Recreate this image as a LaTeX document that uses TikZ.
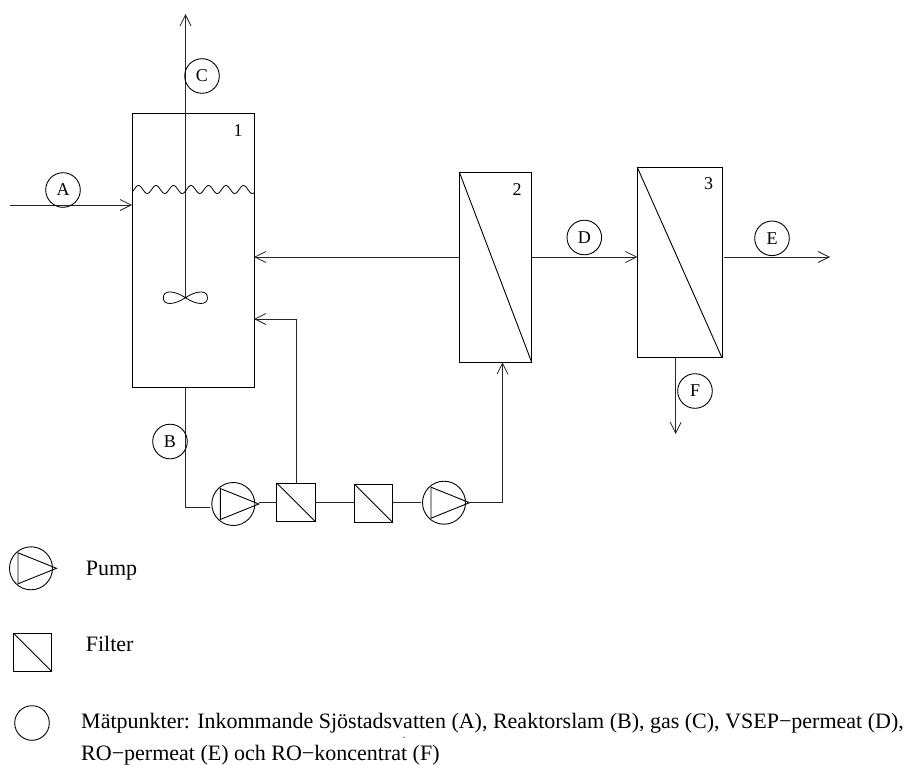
\documentclass[tikz,border=0pt]{standalone}
\usepackage{fontspec}
\setmainfont{Liberation Serif}
\usetikzlibrary{arrows.meta}
\tikzset{
  x=1pt,y=-1pt,
  ln/.style={line width=0.9pt,black!85},
  arr/.style={ln,-{Straight Barb[length=11pt,width=11pt,line width=0.8pt]}},
  pt/.style={circle,draw,line width=0.9pt,minimum size=34.6pt,inner sep=0pt,outer sep=0pt,font=\fontsize{18}{18}\selectfont},
  pumpc/.style={circle,draw,line width=0.9pt,minimum size=43pt,inner sep=0pt,outer sep=0pt},
  vessel/.style={rectangle,draw,line width=0.9pt,inner sep=0pt,outer sep=0pt},
  lbl/.style={inner sep=0pt,font=\fontsize{18}{18}\selectfont},
  txt/.style={inner sep=0pt,anchor=base west,font=\fontsize{22}{22}\selectfont},
}
\newcommand{\tri}[1]{\draw[line width=0.9pt,line join=miter] ([shift={(-13,-15.5)}]#1.center) -- ([shift={(25.5,0)}]#1.center) -- ([shift={(-13,15.5)}]#1.center) -- cycle;}
\begin{document}
\begin{tikzpicture}
\useasboundingbox (0,0) rectangle (915,765);
% vessels
\node[vessel,minimum width=122pt,minimum height=274pt] (tank) at (193,250) {};
\node[vessel,minimum width=72.4pt,minimum height=190.3pt] (uf) at (495.5,267.2) {};
\node[vessel,minimum width=84.7pt,minimum height=190.4pt] (ro) at (679.6,262.5) {};
\draw[line width=0.9pt] (uf.north west) -- (uf.south east);
\draw[line width=0.9pt] (ro.north west) -- (ro.south east);
\node[lbl] (n1) at (238,131) {1};
\node[lbl] (n2) at (517,189.5) {2};
\node[lbl] (n3) at (708.7,183.5) {3};
% pumps and filters
\node[pumpc] (p1) at (233.3,504) {}; \tri{p1}
\node[pumpc] (p2) at (444,502.7) {}; \tri{p2}
\node[vessel,minimum size=38.4pt] (f1) at (296,502.3) {};
\node[vessel,minimum size=38.4pt] (f2) at (373.5,503.3) {};
\draw[line width=0.9pt] (f1.north west) -- (f1.south east);
\draw[line width=0.9pt] (f2.north west) -- (f2.south east);
% free ends
\coordinate (aIn) at (10,205);
\coordinate (cTop) at (185.5,14);
\coordinate (cBot) at (185.5,297.7);
\coordinate (bTop) at (185.5,387);
\coordinate (bCorner) at (185.5,507);
\coordinate (bEnd) at (210,507);
\coordinate (retIn) at (254,319);
\coordinate (retCorner) at (296,319);
\coordinate (ufIn) at (502.5,362.3);
\coordinate (ufCorner) at (502.5,502);
\coordinate (p2Out) at (467,502);
\coordinate (p1Out) at (258.8,502);
\coordinate (f1L) at (276.8,502);
\coordinate (f1R) at (315.2,502);
\coordinate (f2L) at (354.3,502);
\coordinate (f2R) at (392.7,502);
\coordinate (p2In) at (421,502);
\coordinate (recIn) at (254,257);
\coordinate (recOut) at (459.3,257);
\coordinate (dOut) at (531.7,257);
\coordinate (dIn) at (637.3,257);
\coordinate (eOut) at (723.7,257);
\coordinate (eEnd) at (830,257);
\coordinate (fTop) at (675.7,357.7);
\coordinate (fEnd) at (675.7,434);
\coordinate (aEnd) at (132,205);
% connectors
\draw[arr] (aIn) -- (aEnd);
\draw[arr] (cBot) -- (cTop);
\draw[ln] (bTop) -- (bCorner) -- (bEnd);
\draw[arr] (recOut) -- (recIn);
\draw[arr] (f1.north) -- (retCorner) -- (retIn);
\draw[ln] (p1Out) -- (f1L);
\draw[ln] (f1R) -- (f2L);
\draw[ln] (f2R) -- (p2In);
\draw[arr] (p2Out) -- (ufCorner) -- (ufIn);
\draw[arr] (dOut) -- (dIn);
\draw[arr] (eOut) -- (eEnd);
\draw[arr] (fTop) -- (fEnd);
% liquid level and impeller
\draw[line width=0.8pt] plot[domain=133:254,samples=140] (\x,{189.5-4*cos(20.571*(\x-138.5))});
\draw[line width=0.8pt] (cBot) .. controls (197,290) and (207.5,290) .. (207.5,297.7) .. controls (207.5,305.4) and (197,305.4) .. (cBot)
  .. controls (173.5,290) and (163.3,290) .. (163.3,297.7) .. controls (163.3,305.4) and (173.5,305.4) .. (cBot);
% measuring points
\node[pt] (A) at (63,190) {A};
\node[pt] (B) at (170,441.5) {B};
\node[pt] (C) at (202,76) {C};
\node[pt] (D) at (584.3,237.5) {D};
\node[pt] (E) at (772,238.3) {E};
\node[pt] (F) at (695,391) {F};
% legend
\node[pumpc] (lp) at (31,568.3) {}; \tri{lp}
\node[vessel,minimum size=38.4pt] (lf) at (32.5,652.3) {};
\draw[line width=0.9pt] (lf.north west) -- (lf.south east);
\node[pt] (lc) at (32,723) {};
\node[txt] (t1) at (85.7,575.5) {Pump};
\node[txt] (t2) at (85.7,651.5) {Filter};
\node[txt] (t3) at (81,728) {Mätpunkter: Inkommande Sjöstadsvatten (A), Reaktorslam (B), gas (C), VSEP−permeat (D),};
\node[txt] (t4) at (81,760) {RO−permeat (E) och RO−koncentrat (F)};
\fill (404,737.2) circle (0.7pt);
\end{tikzpicture}
\end{document}
